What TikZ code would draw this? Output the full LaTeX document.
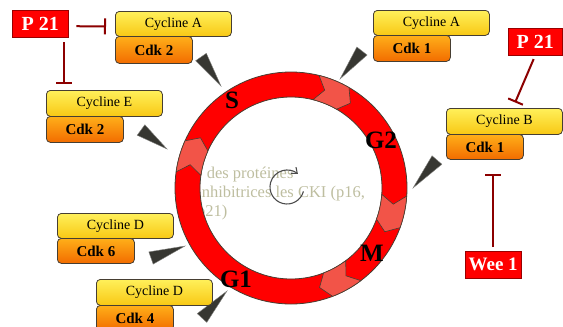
\documentclass[tikz,border=0pt]{standalone}
\usepackage{fontspec}
\setmainfont{Liberation Serif}
\usetikzlibrary{arrows.meta,calc}
\definecolor{ringred}{RGB}{255,0,0}
\definecolor{chevred}{RGB}{242,84,72}
\definecolor{edgegrey}{RGB}{70,62,50}
\definecolor{wedgegrey}{RGB}{55,55,50}
\definecolor{inhibred}{RGB}{140,0,0}
\definecolor{cycTop}{RGB}{255,240,90}
\definecolor{cycBot}{RGB}{248,200,20}
\definecolor{cdkTop}{RGB}{255,175,25}
\definecolor{cdkBot}{RGB}{242,108,0}
\definecolor{ghost}{RGB}{190,190,160}
\begin{document}
\begin{tikzpicture}
  [x=1pt,y=-1pt,
   cyc/.style={draw=edgegrey,thick,rounded corners=4pt,top color=cycTop,bottom color=cycBot,
     anchor=north west,inner sep=0pt,minimum width=116pt,minimum height=25pt,
     font=\fontsize{14}{14}\selectfont},
   cdk/.style={draw=edgegrey,thick,rounded corners=4pt,top color=cdkTop,bottom color=cdkBot,
     anchor=north west,inner sep=0pt,minimum width=77pt,minimum height=25pt,
     font=\bfseries\fontsize{15}{15}\selectfont},
   inhib/.style={draw=red!60!black,fill=ringred,text=white,inner sep=0pt,minimum height=27pt,
     font=\bfseries\fontsize{20}{20}\selectfont},
   phase/.style={font=\bfseries\fontsize{25}{25}\selectfont},
   block/.style={inhibred,line width=2pt,-{Bar[width=16pt]}},
   chev/.style={fill=chevred,draw=edgegrey,line width=0.6pt},
   wedge/.style={fill=wedgegrey,draw=wedgegrey!60,line width=0.4pt}]
  \useasboundingbox (0,0) rectangle (563,327);

  % faint text, partly hidden by the ring
  \node[text=ghost,align=left,anchor=north west,inner sep=0pt,
    font=\fontsize{16.5}{19}\selectfont] (txt) at (197,167)
    {- des protéines\\inhibitrices les CKI (p16,\\p21)};

  % cell cycle ring
  \filldraw[ringred,draw=edgegrey,line width=0.8pt,even odd rule]
    (291,188) circle[radius=116] (291,188) circle[radius=91];
  \begin{scope}[shift={(291,188)}]
    \foreach \a in {294,14,63,198}
      \filldraw[chev] (\a-10:116) arc[start angle=\a-10,end angle=\a+6,radius=116]
        -- (\a+11:103.5) -- (\a+6:91) arc[start angle=\a+6,end angle=\a-10,radius=91]
        -- (\a-5:103.5) -- cycle;
  \end{scope}

  \node[phase] (s)  at (232,100) {S};
  \node[phase] (g2) at (381,140) {G2};
  \node[phase] (m)  at (372,253) {M};
  \node[phase] (g1) at (236,279) {G1};

  \draw[gray!60!black,line width=1.1pt,-{Straight Barb[length=5pt,width=8pt]}]
    (287,187) ++(15:17) arc[start angle=15,end angle=310,radius=17];

  % pointers to the ring
  \foreach \bx/\by/\tx/\ty in {201/57/221/86, 362/51/340/79, 141/130/167/149,
      437/160/413/188, 151/258/185/246, 202/318/227/291}
    \fill[wedge] ($(\bx,\by)!6.5pt!90:(\tx,\ty)$) -- (\tx,\ty)
      -- ($(\bx,\by)!6.5pt!-90:(\tx,\ty)$) -- cycle;

  % cyclin / cdk complexes
  \node[cyc] (cycA2) at (115,11) {Cycline A};
  \node[cdk,minimum height=27pt] (cdkA2) at (115,36) {Cdk 2};
  \node[cyc,minimum height=26pt] (cycE) at (46,90) {Cycline E};
  \node[cdk,minimum height=26pt] (cdkE) at (46,116) {Cdk 2};
  \node[cyc] (cycA1) at (373,10) {Cycline A};
  \node[cdk,minimum height=26pt] (cdkA1) at (373,35) {Cdk 1};
  \node[cyc,minimum height=26pt] (cycB) at (446,108) {Cycline B};
  \node[cdk] (cdkB) at (446,134) {Cdk 1};
  \node[cyc] (cycD6) at (57,213) {Cycline D};
  \node[cdk] (cdkD6) at (57,238) {Cdk 6};
  \node[cyc,minimum height=26pt] (cycD4) at (96,279) {Cycline D};
  \node[cdk] (cdkD4) at (96,305) {Cdk 4};

  % inhibitors
  \node[inhib,minimum width=56pt,anchor=north west] (p21a) at (12,10) {P 21};
  \node[inhib,minimum width=54pt,anchor=north west] (p21b) at (508,28) {P 21};
  \node[inhib,minimum width=56pt,anchor=north west,
    font=\bfseries\fontsize{19}{19}\selectfont] (wee1) at (465,251) {Wee 1};

  \draw[block,shorten <=8pt,shorten >=9pt] ([yshift=-2.5pt]p21a.east) -- ([yshift=-2.5pt]cycA2.west);
  \draw[block,shorten <=5pt,shorten >=6pt] (p21a.-30) -- (p21a.-30 |- cycE.north);
  \draw[block,shorten <=4pt,shorten >=6pt] (p21b.south) -- (cycB.58);
  \draw[block,shorten <=4pt,shorten >=14pt] (wee1.north) -- (wee1.north |- cdkB.south);
\end{tikzpicture}
\end{document}
